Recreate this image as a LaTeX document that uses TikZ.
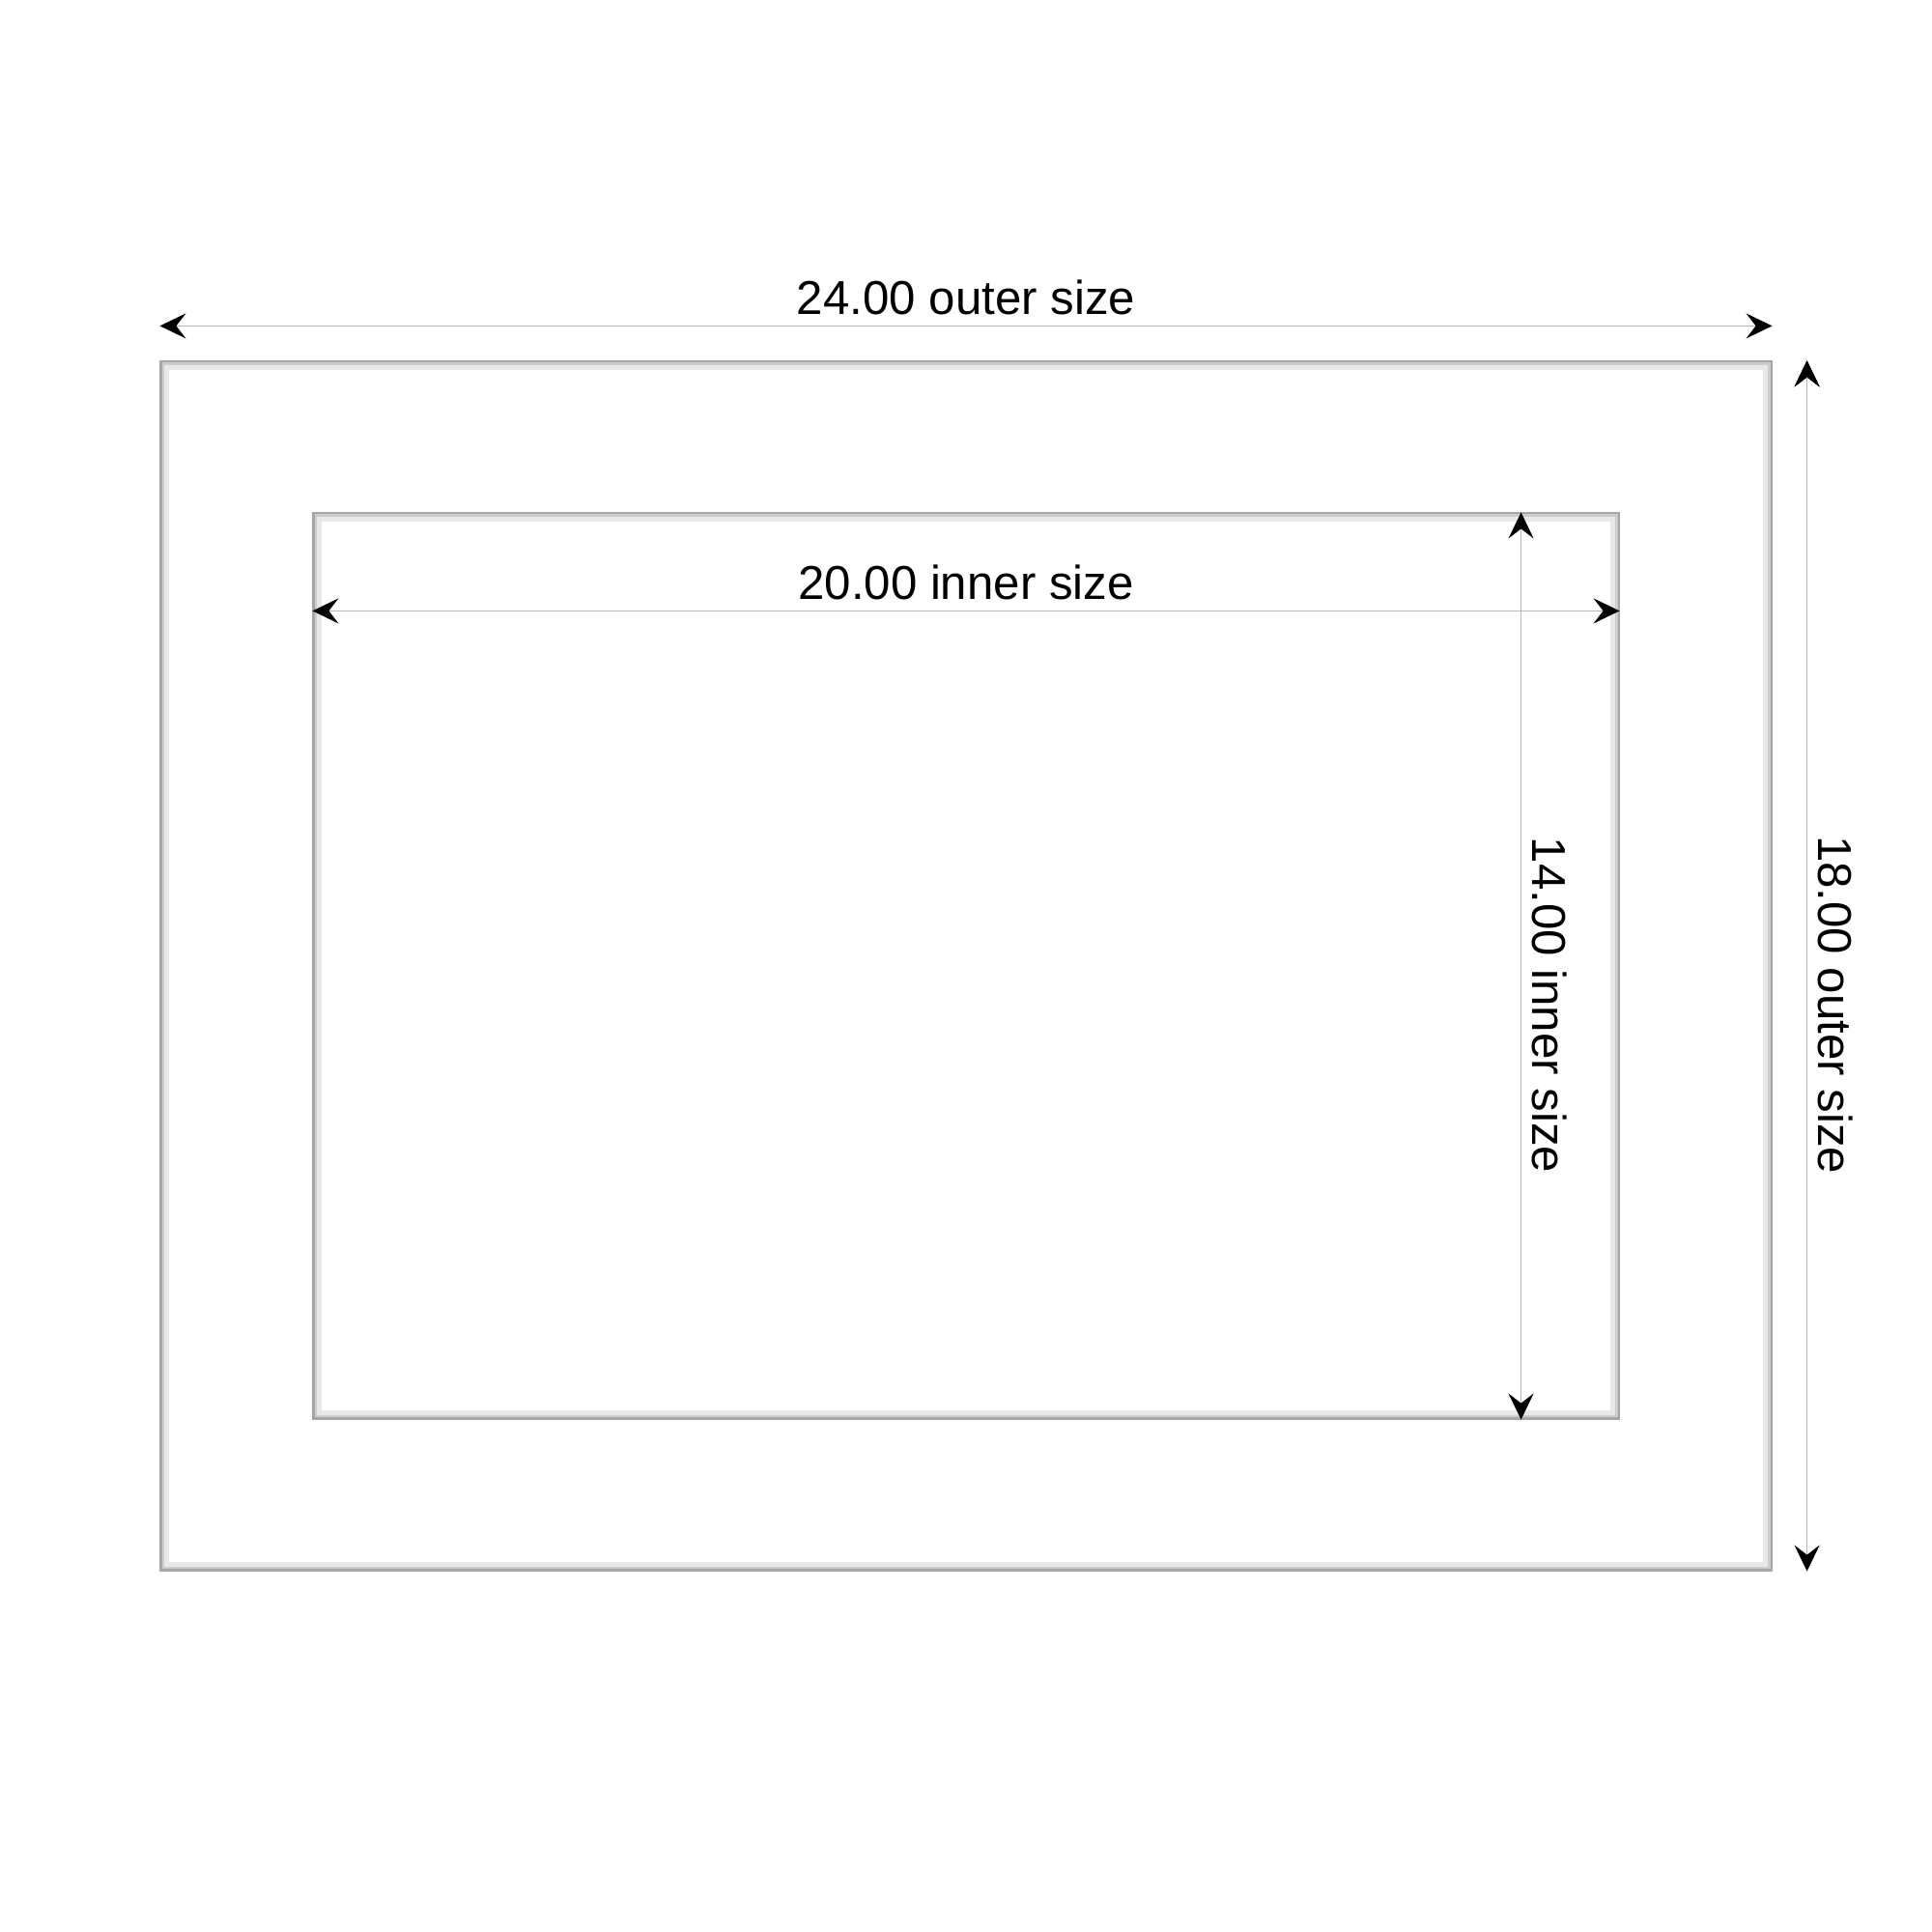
\documentclass[tikz,border=0pt]{standalone}
\usepackage{fontspec}
\setmainfont{Liberation Sans}
\usetikzlibrary{arrows.meta,positioning}

\begin{document}
\begin{tikzpicture}[>={Stealth[length=0.27cm,width=0.26cm,inset=0.1cm,black]}]
    \tikzset{frame/.style={draw=gray!70, line width=0.9pt, rectangle, inner sep=0pt},
    shadeA/.style={draw=gray!40, line width=0.8pt},
    shadeB/.style={draw=gray!18, line width=1.2pt},
    dim/.style={draw=gray!55, line width=0.5pt},
    lbl/.style={font=\fontsize{14}{16}\selectfont, inner sep=3pt, text=black},
    }
    \useasboundingbox (0,0) rectangle (20,20);
    \node [frame, minimum width=16.66cm, minimum height=12.5cm] (outer) at (10,10) {};
    \node [frame, minimum width=13.5cm, minimum height=9.36cm] (inner) at (10,10) {};
    %% soft inner shadow of both frames
    \draw [shadeA] ([shift={(0.035,-0.035)}]outer.north west) rectangle ([shift={(-0.035,0.035)}]outer.south east);
    \draw [shadeB] ([shift={(0.07,-0.07)}]outer.north west) rectangle ([shift={(-0.07,0.07)}]outer.south east);
    \draw [shadeA] ([shift={(0.035,-0.035)}]inner.north west) rectangle ([shift={(-0.035,0.035)}]inner.south east);
    \draw [shadeB] ([shift={(0.07,-0.07)}]inner.north west) rectangle ([shift={(-0.07,0.07)}]inner.south east);

% dimension lines
    \path[dim, <->, every node/.style={lbl}]
                ([yshift=0.36cm]outer.north west) edge node [above] {24.00 outer size} ([yshift=0.36cm]outer.north east)
                ([yshift=-1.02cm]inner.north west) edge node [above] {20.00 inner size} ([yshift=-1.02cm]inner.north east)
                ([xshift=-1.02cm]inner.north east) edge node [pos=0.543, rotate=-90, anchor=south] {14.00 inner size} ([xshift=-1.02cm]inner.south east)
                ([xshift=0.36cm]outer.north east) edge node [pos=0.532, rotate=-90, anchor=south] {18.00 outer size} ([xshift=0.36cm]outer.south east)
                ;
\end{tikzpicture}
\end{document}
